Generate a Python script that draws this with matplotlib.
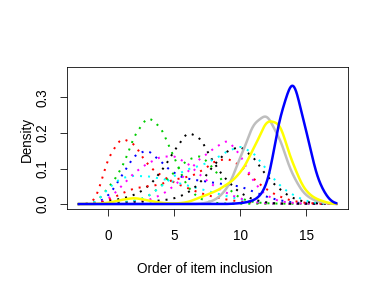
import numpy as np
import matplotlib
matplotlib.use("Agg")
import matplotlib.pyplot as plt

plt.rcParams['font.family'] = ['Liberation Sans', 'DejaVu Sans']

# density at each order of inclusion (0..16)
orders = np.arange(17)

red_a = [0.135, 0.19, 0.17, 0.107, 0.08, 0.06, 0.045, 0.03, 0.02, 0.012, 0.007, 0.004, 0.002, 0.001, 0.001, 0.001, 0.001]
green_a = [0.045, 0.095, 0.196, 0.251, 0.217, 0.13, 0.044, 0.012, 0.003, 0.001, 0.001, 0.001, 0.001, 0.001, 0.001, 0.001, 0.001]
blue_a = [0.02, 0.078, 0.14, 0.155, 0.118, 0.085, 0.07, 0.066, 0.06, 0.055, 0.05, 0.035, 0.02, 0.01, 0.004, 0.002, 0.001]
cyan_a = [0.045, 0.075, 0.08, 0.078, 0.072, 0.062, 0.052, 0.042, 0.032, 0.022, 0.013, 0.007, 0.003, 0.001, 0.001, 0.001, 0.001]
magenta_a = [0.012, 0.05, 0.09, 0.115, 0.134, 0.136, 0.115, 0.08, 0.05, 0.03, 0.015, 0.005, 0.002, 0.001, 0.001, 0.001, 0.001]
black_a = [0.008, 0.015, 0.025, 0.047, 0.09, 0.149, 0.207, 0.187, 0.113, 0.065, 0.03, 0.012, 0.004, 0.001, 0.001, 0.001, 0.001]
red_b = [0.01, 0.03, 0.045, 0.05, 0.055, 0.07, 0.075, 0.09, 0.12, 0.13, 0.11, 0.07, 0.04, 0.02, 0.008, 0.003, 0.001]
green_b = [0.002, 0.004, 0.008, 0.02, 0.05, 0.09, 0.125, 0.14, 0.1, 0.045, 0.015, 0.005, 0.002, 0.001, 0.001, 0.001, 0.001]
magenta_b = [0.002, 0.004, 0.006, 0.01, 0.025, 0.05, 0.09, 0.13, 0.155, 0.185, 0.14, 0.06, 0.022, 0.007, 0.003, 0.001, 0.001]
cyan_b = [0.003, 0.005, 0.008, 0.02, 0.05, 0.08, 0.098, 0.108, 0.125, 0.148, 0.165, 0.145, 0.097, 0.05, 0.025, 0.008, 0.002]
black_b = [0.002, 0.003, 0.005, 0.007, 0.01, 0.015, 0.03, 0.06, 0.11, 0.15, 0.165, 0.132, 0.078, 0.04, 0.015, 0.005, 0.002]

gray_s = [0, 0, 0, 0, 0, 0, 0, 0, 0.008, 0.038, 0.129, 0.229, 0.258, 0.185, 0.074, 0.02, 0.005]
yellow_s = [0.003, 0.012, 0.018, 0.01, 0.003, 0.001, 0.004, 0.02, 0.033, 0.054, 0.084, 0.153, 0.24, 0.232, 0.107, 0.03, 0.01]
blue_s = [0, 0, 0, 0, 0, 0, 0, 0, 0, 0, 0.002, 0.008, 0.036, 0.248, 0.372, 0.201, 0.049]

dotted = [
    (red_a, '#FF0000'), (green_a, '#00CD00'), (blue_a, '#0000FF'),
    (cyan_a, '#00FFFF'), (magenta_a, '#FF00FF'), (black_a, '#000000'),
    (red_b, '#FF0000'), (green_b, '#00CD00'), (magenta_b, '#FF00FF'),
    (cyan_b, '#00FFFF'), (black_b, '#000000'),
]
solid = [(gray_s, '#BEBEBE'), (yellow_s, '#FFFF00'), (blue_s, '#0000FF')]

xs = np.linspace(-2.32, 17.35, 512)
bw = 0.55


def smooth(w):
    k = np.exp(-0.5 * ((xs[:, None] - orders[None, :]) / bw) ** 2) / (bw * np.sqrt(2 * np.pi))
    return k @ np.asarray(w, dtype=float)


W, H = 382, 294
fs = 13.5
fig = plt.figure(figsize=(W / 72, H / 72), dpi=72)
ax = fig.add_axes([67.3 / W, 1 - 209.3 / H, (347.7 - 67.3) / W, (209.3 - 67.3) / H])

for w, c in dotted:
    ax.plot(xs, smooth(w), color=c, lw=2, linestyle=(0, (1, 3)))
for w, c in solid:
    ax.plot(xs, smooth(w), color=c, lw=2.5, solid_capstyle='butt')

ax.set_xlim(-3.106, 18.14)
ax.set_ylim(-0.0148, 0.3848)
ax.set_xticks([0, 5, 10, 15])
ax.set_yticks([0.0, 0.1, 0.2, 0.3])
ax.set_yticklabels(['0.0', '0.1', '0.2', '0.3'])
ax.tick_params(length=7.2, width=0.8, labelsize=fs, colors='black')
ax.tick_params(axis='x', pad=12)
ax.tick_params(axis='y', pad=10.7, labelrotation=90)
for lab in ax.get_yticklabels():
    lab.set_va('center')
for s in ax.spines.values():
    s.set_linewidth(0.8)

fig.text(205 / W, 1 - 269 / H, 'Order of item inclusion', ha='center', va='center', fontsize=fs)
fig.text(26.7 / W, 1 - 140 / H, 'Density', ha='center', va='center', rotation=90, fontsize=fs)

fig.savefig('out.png', dpi=72)
